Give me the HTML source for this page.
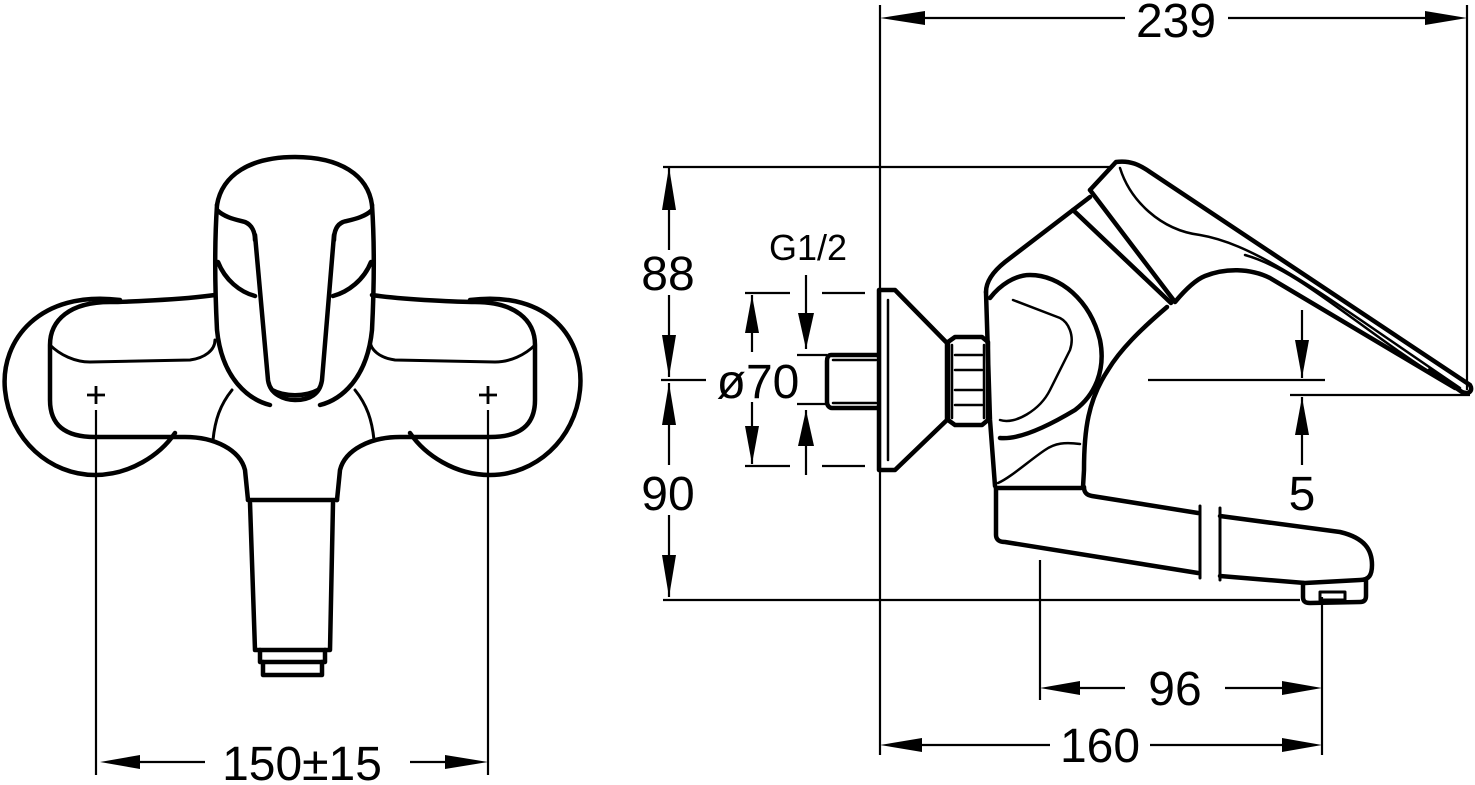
<!DOCTYPE html>
<html><head><meta charset="utf-8"><style>
html,body{margin:0;padding:0;background:#fff;}
svg{display:block;}
text{font-family:"Liberation Sans",Arial,sans-serif;fill:#000;}
</style></head><body>
<svg width="1475" height="785" viewBox="0 0 1475 785" xmlns="http://www.w3.org/2000/svg">
<g fill="none" stroke="#000" stroke-width="4.5" stroke-linejoin="round" stroke-linecap="round">
<path d="M120,300 C40,290 0,340 5,390 C10,440 50,475 95,475 C130,475 160,455 175,433"/>
<path d="M470,300 C550,290 585,340 580,390 C575,440 535,475 490,475 C455,475 425,455 410,433"/>
<path d="M215,295 C180,300 120,302 110,302 C70,302 50,320 50,345 L50,400 C50,425 65,437 95,437 L185,437 C215,437 240,450 245,470 L248,500"/>
<path d="M50,345 C60,355 75,362 90,362 L190,360 C205,358 215,350 215,340" stroke-width="3"/>
<path d="M372,295 C405,300 465,302 475,302 C515,302 535,320 535,345 L535,400 C535,425 520,437 490,437 L400,437 C370,437 345,450 340,470 L337,500"/>
<path d="M535,345 C525,355 510,362 495,362 L395,360 C380,358 370,350 370,340" stroke-width="3"/>
<path d="M248,500 L337,500"/>
<path d="M250,503 L255,650 L330,650 L333,503"/>
<path d="M260,650 L260,662 L325,662 L325,650"/>
<path d="M263,662 L263,675 L322,675 L322,662"/>
<path d="M217,205 C222,175 250,157 295,157 C340,157 368,175 372,205"/>
<path d="M217,205 C214,250 215,290 217,330 C222,380 250,400 270,405"/>
<path d="M372,205 C375,250 374,290 372,330 C367,380 340,400 320,405"/>
<path d="M217,210 C225,218 238,220 245,222 C252,225 255,232 255,240"/>
<path d="M372,210 C364,218 350,220 343,222 C336,225 334,232 334,240"/>
<path d="M218,262 C225,280 240,292 255,296"/>
<path d="M371,262 C364,280 348,292 333,296"/>
<path d="M255,235 L268,380 C270,395 285,400 295,400 C310,400 320,394 322,380 L334,235"/>
<path d="M272,390 C285,397 305,397 318,390"/>
<path d="M232,390 C220,405 215,420 213,440" stroke-width="3"/>
<path d="M355,390 C367,405 372,420 374,440" stroke-width="3"/>
<path d="M878,355 L831,355 C828,355 827,358 827,361 L827,402 C827,405 829,408 832,408 L878,408"/>
<path d="M833,360 L876,360 M833,403 L876,403" stroke-width="2.5"/>
<path d="M879,290 L895,290 L947,343 L947,420 L895,470 L879,470 Z"/>
<path d="M888,300 L888,460" stroke-width="2.5"/>
<path d="M948,342 L955,337 L982,337 L988,342 L988,420 L982,425 L955,425 L948,420 Z"/>
<path d="M955,355 L982,355 M955,370 L982,370 M955,390 L982,390 M955,405 L982,405 M952,345 L952,418 M984,345 L984,418" stroke-width="2.5"/>
<path d="M986,292 C986,280 995,270 1005,262 L1073,210 L1090,197"/>
<path d="M1073,210 L1171,303"/>
<path d="M1090,190 L1116,162 C1130,160 1140,165 1150,172 L1470,385 C1473,390 1470,395 1462,392 L1430,370"/>
<path d="M1090,190 L1175,302 C1185,290 1195,280 1205,276 C1225,268 1250,268 1270,278 L1455,388"/>
<path d="M1120,168 C1130,200 1160,230 1200,235 C1260,245 1330,300 1460,388" stroke-width="2.5"/>
<path d="M1245,255 C1300,270 1360,330 1450,385" stroke-width="2.5"/>
<path d="M1167,307 C1140,330 1120,350 1108,370 C1088,400 1084,430 1084,470 L1083,487"/>
<path d="M986,292 L990,420 L995,486"/>
<path d="M990,298 C1000,285 1015,275 1030,275 C1060,275 1090,300 1100,340 C1106,370 1095,395 1075,410 C1050,425 1020,440 1000,438"/>
<path d="M1013,300 L1060,318 C1068,322 1075,335 1070,350 L1050,390 C1040,410 1015,425 1000,420" stroke-width="2.5"/>
<path d="M998,483 C1010,478 1030,460 1045,450 C1055,443 1065,442 1080,444" stroke-width="2.5"/>
<path d="M996,488 L1081,488"/>
<path d="M996,488 L996,535 C996,540 1000,542 1005,542 L1198,573"/>
<path d="M1084,487 C1084,492 1086,495 1092,496 L1198,513"/>
<path d="M1220,516 L1340,532 C1365,538 1372,550 1372,565 C1372,575 1369,580 1360,580 L1305,583 L1220,576"/>
<path d="M1200,506 L1200,578 M1220,508 L1220,580" stroke-width="3"/>
<path d="M1303,583 L1303,597 C1303,602 1306,603 1310,603 L1360,602 C1364,602 1366,600 1366,596 L1366,580"/>
<path d="M1320,592 L1345,592 L1345,600 L1320,600 Z" stroke-width="3"/>
</g>
<g fill="none" stroke="#000" stroke-width="2.2">
<path d="M87,395 L105,395 M96,386 L96,404 M479,395 L497,395 M488,386 L488,404" stroke-width="2.8"/>
<path d="M96,410 L96,775 M488,410 L488,775"/>
<path d="M140,762 L205,762 M410,762 L445,762"/>
<path d="M880,5 L880,755"/>
<path d="M925,18 L1125,18 M1228,18 L1425,18"/>
<path d="M1467,5 L1467,390"/>
<path d="M663,167 L1113,167"/>
<path d="M661,380 L706,380"/>
<path d="M663,600 L1300,600"/>
<path d="M669,167 L669,250 M669,295 L669,377 M669,383 L669,465 M669,515 L669,597"/>
<path d="M745,293 L790,293 M822,293 L865,293 M745,466 L790,466 M822,466 L865,466"/>
<path d="M752,295 L752,352 M752,402 L752,464"/>
<path d="M797,355 L827,355 M797,404 L827,404"/>
<path d="M806,275 L806,349 M806,410 L806,475"/>
<path d="M1148,380 L1325,380 M1290,395 L1470,395"/>
<path d="M1302,310 L1302,378 M1302,397 L1302,465"/>
<path d="M1040,560 L1040,700 M1322,597 L1322,755"/>
<path d="M1060,688 L1125,688 M1225,688 L1300,688"/>
<path d="M920,745 L1050,745 M1150,745 L1300,745"/>
</g>
<g fill="#000" stroke="none">
<polygon points="100,762 140,755 140,769"/>
<polygon points="488,762 445,755 445,769"/>
<polygon points="880,18 925,11 925,25"/>
<polygon points="1467,18 1425,11 1425,25"/>
<polygon points="669,167 662,210 676,210"/>
<polygon points="669,377 662,335 676,335"/>
<polygon points="669,383 662,425 676,425"/>
<polygon points="669,597 662,555 676,555"/>
<polygon points="752,295 745,333 759,333"/>
<polygon points="752,464 745,426 759,426"/>
<polygon points="806,349 798,313 814,313"/>
<polygon points="806,410 798,446 814,446"/>
<polygon points="1302,378 1295,340 1309,340"/>
<polygon points="1302,397 1295,435 1309,435"/>
<polygon points="1040,688 1080,681 1080,695"/>
<polygon points="1322,688 1282,681 1282,695"/>
<polygon points="880,745 922,738 922,752"/>
<polygon points="1322,745 1282,738 1282,752"/>
</g>
<g font-size="48">
<text x="302" y="780" text-anchor="middle">150±15</text>
<text x="1176" y="37" text-anchor="middle">239</text>
<text x="668" y="290" text-anchor="middle">88</text>
<text x="668" y="510" text-anchor="middle">90</text>
<text x="758" y="398" text-anchor="middle">ø70</text>
<text x="1302" y="510" text-anchor="middle">5</text>
<text x="1175" y="705" text-anchor="middle">96</text>
<text x="1100" y="762" text-anchor="middle">160</text>
</g>
<text x="808" y="260" text-anchor="middle" font-size="36">G1/2</text>
</svg>
</body></html>
